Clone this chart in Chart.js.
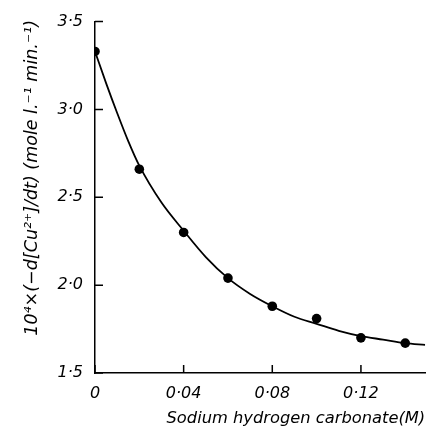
<!DOCTYPE html>
<html>
<head>
<meta charset="utf-8">
<script src="https://cdn.jsdelivr.net/npm/chart.js@4"></script>
<style>
  html, body { margin: 0; padding: 0; background: #fff; }
  #wrap { width: 430px; height: 431px; }
</style>
</head>
<body>
<div id="wrap"><canvas id="chart"></canvas></div>
<script>
// measured points
const conc = [0, 0.02, 0.04, 0.06, 0.08, 0.10, 0.12, 0.14];
const rate = [3.33, 2.66, 2.30, 2.04, 1.88, 1.81, 1.70, 1.67];

// smooth curve
const curveX = [0, 0.005, 0.01, 0.015, 0.02, 0.03, 0.04, 0.05, 0.06, 0.07, 0.08, 0.09, 0.10, 0.11, 0.12, 0.13, 0.14, 0.149];
const curveY = [3.33, 3.15, 2.98, 2.82, 2.68, 2.47, 2.31, 2.16, 2.04, 1.95, 1.88, 1.82, 1.78, 1.74, 1.71, 1.69, 1.67, 1.66];

const xTitle = 'Sodium hydrogen carbonate(M)';
const yTitle = '10\u2074\u00d7(\u2212d[Cu\u00b2\u207a]/dt) (mole l.\u207b\u00b9 min.\u207b\u00b9)';

const font = 'DejaVu Sans';

function fmt(v, digits) {
  if (Math.abs(v) < 1e-9) return '0';
  return v.toFixed(digits).replace('.', '\u00b7');
}

// inward ticks + rotated y title
const extras = {
  id: 'extras',
  afterDraw(chart) {
    const { ctx, chartArea, scales } = chart;
    ctx.save();
    ctx.strokeStyle = '#000';
    ctx.lineWidth = 1.5;
    ctx.beginPath();
    scales.y.ticks.forEach(t => {
      const y = scales.y.getPixelForValue(t.value);
      ctx.moveTo(chartArea.left, y);
      ctx.lineTo(chartArea.left + 8, y);
    });
    scales.x.ticks.forEach(t => {
      const x = scales.x.getPixelForValue(t.value);
      ctx.moveTo(x, chartArea.bottom);
      ctx.lineTo(x, chartArea.bottom - 8);
    });
    ctx.stroke();

    ctx.translate(32, 20);
    ctx.rotate(-Math.PI / 2);
    ctx.fillStyle = '#000';
    ctx.font = 'italic 17.5px "' + font + '"';
    ctx.textAlign = 'right';
    ctx.textBaseline = 'middle';
    ctx.fillText(yTitle, 0, 0);
    ctx.restore();
  }
};

new Chart(document.getElementById('chart').getContext('2d'), {
  type: 'scatter',
  data: {
    datasets: [
      {
        data: curveX.map((x, i) => ({ x: x, y: curveY[i] })),
        showLine: true,
        borderColor: '#000',
        borderWidth: 1.8,
        pointRadius: 0,
        cubicInterpolationMode: 'monotone',
        fill: false
      },
      {
        data: conc.map((x, i) => ({ x: x, y: rate[i] })),
        backgroundColor: '#000',
        borderColor: '#000',
        pointRadius: 4.8,
        borderWidth: 0
      }
    ]
  },
  options: {
    responsive: true,
    maintainAspectRatio: false,
    animation: false,
    layout: { padding: { top: 13, right: 0, bottom: 0, left: 0 } },
    plugins: { legend: { display: false }, tooltip: { enabled: false } },
    scales: {
      x: {
        type: 'linear',
        min: 0,
        max: 0.149,
        afterFit(scale) { scale.height = 58; },
        grid: { display: false, drawTicks: false },
        border: { display: true, color: '#000', width: 1.5 },
        ticks: {
          stepSize: 0.04,
          includeBounds: false,
          padding: 11,
          color: '#000',
          font: { family: font, size: 16, style: 'italic' },
          callback: v => fmt(v, 2)
        },
        title: {
          display: true,
          align: 'end',
          text: xTitle,
          color: '#000',
          padding: { top: 0, bottom: 2 },
          font: { family: font, size: 16.3, style: 'italic' }
        }
      },
      y: {
        min: 1.5,
        max: 3.5,
        afterFit(scale) { scale.width = 95; },
        grid: { display: false, drawTicks: false },
        border: { display: true, color: '#000', width: 1.5 },
        ticks: {
          stepSize: 0.5,
          padding: 12,
          color: '#000',
          font: { family: font, size: 16, style: 'italic' },
          callback: v => fmt(v, 1)
        },
        title: { display: false }
      }
    }
  },
  plugins: [extras]
});
</script>
</body>
</html>
